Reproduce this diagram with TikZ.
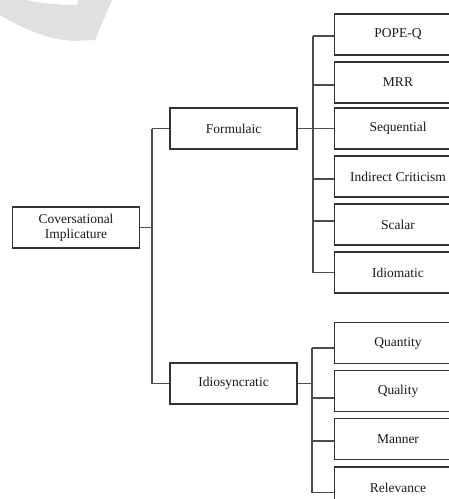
\documentclass[tikz,border=0pt]{standalone}
\usepackage{fontspec}
\setmainfont{Liberation Serif}
\begin{document}
\begin{tikzpicture}[x=1pt,y=-1pt,
  box/.style={draw=black!80, line width=1.1pt, minimum width=127pt, minimum height=41pt,
    inner sep=0pt, align=center, font=\fontsize{13.5}{15}\selectfont, text=black!90},
  link/.style={draw=black!70, line width=1.1pt}]
\useasboundingbox (0,0) rectangle (449,499);
\clip (0,0) rectangle (449,499);
% watermark fragment
\fill[black!12] (0,9) -- (0,15) .. controls (25,30) and (50,40) .. (75,41)
  -- (95,40) -- (112,0) -- (78,0) -- (77,5) .. controls (60,5) and (40,3) .. (25,0) -- (0,0) -- cycle;
% nodes
\node[box] (root) at (76,227.5) {Coversational\\Implicature};
\node[box] (form) at (233.5,128.5) {Formulaic};
\node[box] (idio) at (233.5,383.5) {Idiosyncratic};
\node[box] (pope) at (398,34.5) {POPE-Q};
\node[box] (mrr) at (398,82.5) {MRR};
\node[box] (seq) at (398,128.5) {Sequential};
\node[box] (ind) at (398,176.5) {Indirect Criticism};
\node[box] (sca) at (398,224.5) {Scalar};
\node[box] (idm) at (398,272.5) {Idiomatic};
\node[box] (qn) at (398,343) {Quantity};
\node[box] (ql) at (398,391) {Quality};
\node[box] (man) at (398,439) {Manner};
\node[box] (rel) at (398,487.5) {Relevance};
% buses
\coordinate (rb) at (152,227.5);
\coordinate (fb) at (313,128.5);
\coordinate (ib) at (312,383.5);
% root connectors
\draw[link] (root.east) -- (rb);
\draw[link] (rb |- form.west) -- (rb |- idio.west);
\draw[link] (rb |- form.west) -- (form.west);
\draw[link] (rb |- idio.west) -- (idio.west);
% formulaic connectors
\draw[link] (form.east) -- (fb);
\draw[link] ([yshift=-1.5pt]fb |- pope.west) -- (fb |- idm.west);
\foreach \n/\d in {pope/-1.5,mrr/-2.5,seq/0,ind/-2.5,sca/3.5,idm/0}
  \draw[link] ([yshift=\d pt]fb |- \n.west) -- ([yshift=\d pt]\n.west);
% idiosyncratic connectors
\draw[link] (idio.east) -- (ib);
\draw[link] ([yshift=-5pt]ib |- qn.west) -- ([yshift=-5pt]ib |- rel.west);
\foreach \n/\d in {qn/-5,ql/-7,man/-2,rel/-5}
  \draw[link] ([yshift=\d pt]ib |- \n.west) -- ([yshift=\d pt]\n.west);
\end{tikzpicture}
\end{document}
